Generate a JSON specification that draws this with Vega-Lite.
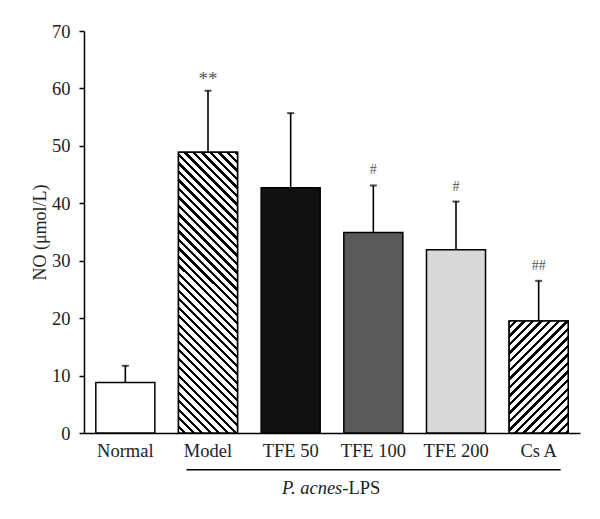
{
  "$schema": "https://vega.github.io/schema/vega-lite/v6.json",
  "autosize": "none",
  "width": 496,
  "height": 402,
  "padding": {"left": 84, "top": 31, "right": 20, "bottom": 86},
  "background": "white",
  "config": {
    "view": {"stroke": null},
    "font": "Liberation Serif",
    "axis": {"labelFont": "Liberation Serif", "titleFont": "Liberation Serif", "grid": false}
  },
  "datasets": {
    "groups": [
      {"group": "Normal", "mean": 8.8, "upper": 11.7, "sig": ""},
      {"group": "Model", "mean": 48.9, "upper": 59.6, "sig": "**"},
      {"group": "TFE 50", "mean": 42.7, "upper": 55.7, "sig": ""},
      {"group": "TFE 100", "mean": 34.9, "upper": 43.1, "sig": "#"},
      {"group": "TFE 200", "mean": 31.9, "upper": 40.3, "sig": "#"},
      {"group": "Cs A", "mean": 19.5, "upper": 26.5, "sig": "##"}
    ],
    "bracket": [
      {"from": "Model", "to": "Cs A", "at": "TFE 100", "italic": "P. acnes", "plain": "-LPS"}
    ]
  },
  "layer": [
    {
      "data": {"name": "groups"},
      "mark": {"type": "bar", "stroke": "black", "strokeWidth": 1.5},
      "encoding": {
        "x": {
          "field": "group", "type": "nominal", "title": null,
          "scale": {"domain": ["Normal", "Model", "TFE 50", "TFE 100", "TFE 200", "Cs A"], "paddingInner": 0.286, "paddingOuter": 0.143},
          "axis": {"labelAngle": 0, "ticks": false, "labelPadding": 8, "labelFontSize": 18.5, "labelColor": "#222", "domainColor": "black", "domainWidth": 1.5}
        },
        "y": {
          "field": "mean", "type": "quantitative",
          "scale": {"domain": [0, 70], "nice": false},
          "axis": {"title": "NO (μmol/L)", "values": [0, 10, 20, 30, 40, 50, 60, 70], "titleFontSize": 18, "titleFontWeight": "normal", "titleColor": "#222", "titlePadding": 2, "labelFontSize": 18.5, "labelColor": "#222", "labelPadding": 9, "tickSize": 5, "tickColor": "black", "tickWidth": 1.5, "domainColor": "black", "domainWidth": 1.5}
        },
        "fill": {
          "field": "group", "type": "nominal", "legend": null,
          "scale": {"domain": ["Normal", "Model", "TFE 50", "TFE 100", "TFE 200", "Cs A"], "range": ["#ffffff", "#ffffff", "#111111", "#5a5a5a", "#d9d9d9", "#ffffff"]}
        }
      }
    },
    {
      "data": {"name": "groups"},
      "transform": [{"filter": "datum.group === 'Model'"}],
      "mark": {
        "type": "bar", "stroke": "black", "strokeWidth": 1.5,
        "fill": {
          "gradient": "linear", "x1": 0, "y1": 1, "x2": 0.2435, "y2": -0.1589,
          "stops": [
            {"offset": 0, "color": "#fff"}, {"offset": 0.015, "color": "#fff"}, {"offset": 0.015, "color": "#000"}, {"offset": 0.025, "color": "#000"},
            {"offset": 0.025, "color": "#fff"}, {"offset": 0.04, "color": "#fff"}, {"offset": 0.04, "color": "#000"}, {"offset": 0.05, "color": "#000"},
            {"offset": 0.05, "color": "#fff"}, {"offset": 0.065, "color": "#fff"}, {"offset": 0.065, "color": "#000"}, {"offset": 0.075, "color": "#000"},
            {"offset": 0.075, "color": "#fff"}, {"offset": 0.09, "color": "#fff"}, {"offset": 0.09, "color": "#000"}, {"offset": 0.1, "color": "#000"},
            {"offset": 0.1, "color": "#fff"}, {"offset": 0.115, "color": "#fff"}, {"offset": 0.115, "color": "#000"}, {"offset": 0.125, "color": "#000"},
            {"offset": 0.125, "color": "#fff"}, {"offset": 0.14, "color": "#fff"}, {"offset": 0.14, "color": "#000"}, {"offset": 0.15, "color": "#000"},
            {"offset": 0.15, "color": "#fff"}, {"offset": 0.165, "color": "#fff"}, {"offset": 0.165, "color": "#000"}, {"offset": 0.175, "color": "#000"},
            {"offset": 0.175, "color": "#fff"}, {"offset": 0.19, "color": "#fff"}, {"offset": 0.19, "color": "#000"}, {"offset": 0.2, "color": "#000"},
            {"offset": 0.2, "color": "#fff"}, {"offset": 0.215, "color": "#fff"}, {"offset": 0.215, "color": "#000"}, {"offset": 0.225, "color": "#000"},
            {"offset": 0.225, "color": "#fff"}, {"offset": 0.24, "color": "#fff"}, {"offset": 0.24, "color": "#000"}, {"offset": 0.25, "color": "#000"},
            {"offset": 0.25, "color": "#fff"}, {"offset": 0.265, "color": "#fff"}, {"offset": 0.265, "color": "#000"}, {"offset": 0.275, "color": "#000"},
            {"offset": 0.275, "color": "#fff"}, {"offset": 0.29, "color": "#fff"}, {"offset": 0.29, "color": "#000"}, {"offset": 0.3, "color": "#000"},
            {"offset": 0.3, "color": "#fff"}, {"offset": 0.315, "color": "#fff"}, {"offset": 0.315, "color": "#000"}, {"offset": 0.325, "color": "#000"},
            {"offset": 0.325, "color": "#fff"}, {"offset": 0.34, "color": "#fff"}, {"offset": 0.34, "color": "#000"}, {"offset": 0.35, "color": "#000"},
            {"offset": 0.35, "color": "#fff"}, {"offset": 0.365, "color": "#fff"}, {"offset": 0.365, "color": "#000"}, {"offset": 0.375, "color": "#000"},
            {"offset": 0.375, "color": "#fff"}, {"offset": 0.39, "color": "#fff"}, {"offset": 0.39, "color": "#000"}, {"offset": 0.4, "color": "#000"},
            {"offset": 0.4, "color": "#fff"}, {"offset": 0.415, "color": "#fff"}, {"offset": 0.415, "color": "#000"}, {"offset": 0.425, "color": "#000"},
            {"offset": 0.425, "color": "#fff"}, {"offset": 0.44, "color": "#fff"}, {"offset": 0.44, "color": "#000"}, {"offset": 0.45, "color": "#000"},
            {"offset": 0.45, "color": "#fff"}, {"offset": 0.465, "color": "#fff"}, {"offset": 0.465, "color": "#000"}, {"offset": 0.475, "color": "#000"},
            {"offset": 0.475, "color": "#fff"}, {"offset": 0.49, "color": "#fff"}, {"offset": 0.49, "color": "#000"}, {"offset": 0.5, "color": "#000"},
            {"offset": 0.5, "color": "#fff"}, {"offset": 0.515, "color": "#fff"}, {"offset": 0.515, "color": "#000"}, {"offset": 0.525, "color": "#000"},
            {"offset": 0.525, "color": "#fff"}, {"offset": 0.54, "color": "#fff"}, {"offset": 0.54, "color": "#000"}, {"offset": 0.55, "color": "#000"},
            {"offset": 0.55, "color": "#fff"}, {"offset": 0.565, "color": "#fff"}, {"offset": 0.565, "color": "#000"}, {"offset": 0.575, "color": "#000"},
            {"offset": 0.575, "color": "#fff"}, {"offset": 0.59, "color": "#fff"}, {"offset": 0.59, "color": "#000"}, {"offset": 0.6, "color": "#000"},
            {"offset": 0.6, "color": "#fff"}, {"offset": 0.615, "color": "#fff"}, {"offset": 0.615, "color": "#000"}, {"offset": 0.625, "color": "#000"},
            {"offset": 0.625, "color": "#fff"}, {"offset": 0.64, "color": "#fff"}, {"offset": 0.64, "color": "#000"}, {"offset": 0.65, "color": "#000"},
            {"offset": 0.65, "color": "#fff"}, {"offset": 0.665, "color": "#fff"}, {"offset": 0.665, "color": "#000"}, {"offset": 0.675, "color": "#000"},
            {"offset": 0.675, "color": "#fff"}, {"offset": 0.69, "color": "#fff"}, {"offset": 0.69, "color": "#000"}, {"offset": 0.7, "color": "#000"},
            {"offset": 0.7, "color": "#fff"}, {"offset": 0.715, "color": "#fff"}, {"offset": 0.715, "color": "#000"}, {"offset": 0.725, "color": "#000"},
            {"offset": 0.725, "color": "#fff"}, {"offset": 0.74, "color": "#fff"}, {"offset": 0.74, "color": "#000"}, {"offset": 0.75, "color": "#000"},
            {"offset": 0.75, "color": "#fff"}, {"offset": 0.765, "color": "#fff"}, {"offset": 0.765, "color": "#000"}, {"offset": 0.775, "color": "#000"},
            {"offset": 0.775, "color": "#fff"}, {"offset": 0.79, "color": "#fff"}, {"offset": 0.79, "color": "#000"}, {"offset": 0.8, "color": "#000"},
            {"offset": 0.8, "color": "#fff"}, {"offset": 0.815, "color": "#fff"}, {"offset": 0.815, "color": "#000"}, {"offset": 0.825, "color": "#000"},
            {"offset": 0.825, "color": "#fff"}, {"offset": 0.84, "color": "#fff"}, {"offset": 0.84, "color": "#000"}, {"offset": 0.85, "color": "#000"},
            {"offset": 0.85, "color": "#fff"}, {"offset": 0.865, "color": "#fff"}, {"offset": 0.865, "color": "#000"}, {"offset": 0.875, "color": "#000"},
            {"offset": 0.875, "color": "#fff"}, {"offset": 0.89, "color": "#fff"}, {"offset": 0.89, "color": "#000"}, {"offset": 0.9, "color": "#000"},
            {"offset": 0.9, "color": "#fff"}, {"offset": 0.915, "color": "#fff"}, {"offset": 0.915, "color": "#000"}, {"offset": 0.925, "color": "#000"},
            {"offset": 0.925, "color": "#fff"}, {"offset": 0.94, "color": "#fff"}, {"offset": 0.94, "color": "#000"}, {"offset": 0.95, "color": "#000"},
            {"offset": 0.95, "color": "#fff"}, {"offset": 0.965, "color": "#fff"}, {"offset": 0.965, "color": "#000"}, {"offset": 0.975, "color": "#000"},
            {"offset": 0.975, "color": "#fff"}, {"offset": 0.99, "color": "#fff"}, {"offset": 0.99, "color": "#000"}, {"offset": 1, "color": "#000"}
          ]
        }
      },
      "encoding": {
        "x": {"field": "group", "type": "nominal"},
        "y": {"field": "mean", "type": "quantitative"}
      }
    },
    {
      "data": {"name": "groups"},
      "transform": [{"filter": "datum.group === 'Cs A'"}],
      "mark": {
        "type": "bar", "stroke": "black", "strokeWidth": 1.5,
        "fill": {
          "gradient": "linear", "x1": 0, "y1": 0, "x2": 0.6296, "y2": 1.1951,
          "stops": [
            {"offset": 0, "color": "#fff"}, {"offset": 0.03, "color": "#fff"}, {"offset": 0.03, "color": "#000"}, {"offset": 0.05, "color": "#000"},
            {"offset": 0.05, "color": "#fff"}, {"offset": 0.08, "color": "#fff"}, {"offset": 0.08, "color": "#000"}, {"offset": 0.1, "color": "#000"},
            {"offset": 0.1, "color": "#fff"}, {"offset": 0.13, "color": "#fff"}, {"offset": 0.13, "color": "#000"}, {"offset": 0.15, "color": "#000"},
            {"offset": 0.15, "color": "#fff"}, {"offset": 0.18, "color": "#fff"}, {"offset": 0.18, "color": "#000"}, {"offset": 0.2, "color": "#000"},
            {"offset": 0.2, "color": "#fff"}, {"offset": 0.23, "color": "#fff"}, {"offset": 0.23, "color": "#000"}, {"offset": 0.25, "color": "#000"},
            {"offset": 0.25, "color": "#fff"}, {"offset": 0.28, "color": "#fff"}, {"offset": 0.28, "color": "#000"}, {"offset": 0.3, "color": "#000"},
            {"offset": 0.3, "color": "#fff"}, {"offset": 0.33, "color": "#fff"}, {"offset": 0.33, "color": "#000"}, {"offset": 0.35, "color": "#000"},
            {"offset": 0.35, "color": "#fff"}, {"offset": 0.38, "color": "#fff"}, {"offset": 0.38, "color": "#000"}, {"offset": 0.4, "color": "#000"},
            {"offset": 0.4, "color": "#fff"}, {"offset": 0.43, "color": "#fff"}, {"offset": 0.43, "color": "#000"}, {"offset": 0.45, "color": "#000"},
            {"offset": 0.45, "color": "#fff"}, {"offset": 0.48, "color": "#fff"}, {"offset": 0.48, "color": "#000"}, {"offset": 0.5, "color": "#000"},
            {"offset": 0.5, "color": "#fff"}, {"offset": 0.53, "color": "#fff"}, {"offset": 0.53, "color": "#000"}, {"offset": 0.55, "color": "#000"},
            {"offset": 0.55, "color": "#fff"}, {"offset": 0.58, "color": "#fff"}, {"offset": 0.58, "color": "#000"}, {"offset": 0.6, "color": "#000"},
            {"offset": 0.6, "color": "#fff"}, {"offset": 0.63, "color": "#fff"}, {"offset": 0.63, "color": "#000"}, {"offset": 0.65, "color": "#000"},
            {"offset": 0.65, "color": "#fff"}, {"offset": 0.68, "color": "#fff"}, {"offset": 0.68, "color": "#000"}, {"offset": 0.7, "color": "#000"},
            {"offset": 0.7, "color": "#fff"}, {"offset": 0.73, "color": "#fff"}, {"offset": 0.73, "color": "#000"}, {"offset": 0.75, "color": "#000"},
            {"offset": 0.75, "color": "#fff"}, {"offset": 0.78, "color": "#fff"}, {"offset": 0.78, "color": "#000"}, {"offset": 0.8, "color": "#000"},
            {"offset": 0.8, "color": "#fff"}, {"offset": 0.83, "color": "#fff"}, {"offset": 0.83, "color": "#000"}, {"offset": 0.85, "color": "#000"},
            {"offset": 0.85, "color": "#fff"}, {"offset": 0.88, "color": "#fff"}, {"offset": 0.88, "color": "#000"}, {"offset": 0.9, "color": "#000"},
            {"offset": 0.9, "color": "#fff"}, {"offset": 0.93, "color": "#fff"}, {"offset": 0.93, "color": "#000"}, {"offset": 0.95, "color": "#000"},
            {"offset": 0.95, "color": "#fff"}, {"offset": 0.98, "color": "#fff"}, {"offset": 0.98, "color": "#000"}, {"offset": 1, "color": "#000"}
          ]
        }
      },
      "encoding": {
        "x": {"field": "group", "type": "nominal"},
        "y": {"field": "mean", "type": "quantitative"}
      }
    },
    {
      "data": {"name": "groups"},
      "mark": {"type": "rule", "color": "black", "strokeWidth": 1.6},
      "encoding": {
        "x": {"field": "group", "type": "nominal"},
        "y": {"field": "mean", "type": "quantitative"},
        "y2": {"field": "upper"}
      }
    },
    {
      "data": {"name": "groups"},
      "mark": {"type": "tick", "orient": "horizontal", "color": "black", "size": 7, "thickness": 2},
      "encoding": {
        "x": {"field": "group", "type": "nominal"},
        "y": {"field": "upper", "type": "quantitative"}
      }
    },
    {
      "data": {"name": "groups"},
      "transform": [{"filter": "datum.sig === '#' || datum.sig === '##'"}],
      "mark": {"type": "text", "baseline": "middle", "dy": -15, "fontSize": 14, "color": "#555", "font": "Liberation Serif"},
      "encoding": {
        "x": {"field": "group", "type": "nominal"},
        "y": {"field": "upper", "type": "quantitative"},
        "text": {"field": "sig"}
      }
    },
    {
      "data": {"name": "groups"},
      "transform": [{"filter": "datum.sig === '**'"}],
      "mark": {"type": "text", "baseline": "alphabetic", "dy": -6, "fontSize": 19, "color": "#555", "font": "Liberation Serif"},
      "encoding": {
        "x": {"field": "group", "type": "nominal"},
        "y": {"field": "upper", "type": "quantitative"},
        "text": {"field": "sig"}
      }
    },
    {
      "data": {"name": "bracket"},
      "mark": {"type": "rule", "color": "black", "strokeWidth": 1.5, "xOffset": -21.5, "x2Offset": 22},
      "encoding": {
        "x": {"field": "from", "type": "nominal"},
        "x2": {"field": "to"},
        "y": {"datum": -6.4, "type": "quantitative", "scale": {"domain": [0, 70], "nice": false}}
      }
    },
    {
      "data": {"name": "bracket"},
      "mark": {"type": "text", "align": "right", "baseline": "alphabetic", "dx": -31, "fontSize": 18.5, "fontStyle": "italic", "color": "#222", "font": "Liberation Serif"},
      "encoding": {
        "x": {"field": "at", "type": "nominal"},
        "y": {"datum": -10.6, "type": "quantitative", "scale": {"domain": [0, 70], "nice": false}},
        "text": {"field": "italic"}
      }
    },
    {
      "data": {"name": "bracket"},
      "mark": {"type": "text", "align": "left", "baseline": "alphabetic", "dx": -31, "fontSize": 18.5, "color": "#222", "font": "Liberation Serif"},
      "encoding": {
        "x": {"field": "at", "type": "nominal"},
        "y": {"datum": -10.6, "type": "quantitative", "scale": {"domain": [0, 70], "nice": false}},
        "text": {"field": "plain"}
      }
    }
  ]
}
